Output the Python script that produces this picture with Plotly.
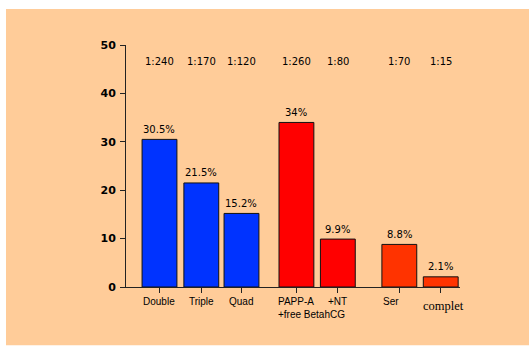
import plotly.graph_objects as go

# ---- data ----
categories = ["Double", "Triple", "Quad", "PAPP-A", "+NT", "Ser", "complet"]
values = [30.5, 21.5, 15.2, 34, 9.9, 8.8, 2.1]
pct_labels = ["30.5%", "21.5%", "15.2%", "34%", "9.9%", "8.8%", "2.1%"]
ratio_labels = ["1:240", "1:170", "1:120", "1:260", "1:80", "1:70", "1:15"]
y_ticks = [0, 10, 20, 30, 40, 50]
sub_label = "+free BetahCG"

# ---- layout / styles ----
xpos = [0, 1.02, 2.0, 3.34, 4.35, 5.85, 6.86]
bar_colors = ["#0033FF", "#0033FF", "#0033FF", "#FF0000", "#FF0000", "#FF3300", "#FF3300"]
label_xshift = [0, 0, 0, 0, 0, -8.5, 3]
label_yshift = [-14.5, -14.5, -14.5, -14.5, -14.5, -14.5, -18.5]
label_fonts = [dict(family="Liberation Sans, Arial", size=10, color="black")] * 6 + [
    dict(family="Liberation Serif, Times New Roman", size=12.5, color="black")
]
PEACH = "#FFCC99"
AXIS = "#222222"

fig = go.Figure()
fig.add_trace(
    go.Bar(
        x=xpos,
        y=values,
        width=0.85,
        marker=dict(color=bar_colors, line=dict(color="#111111", width=1)),
        hoverinfo="skip",
    )
)

annotations = []
for xp, v, t in zip(xpos, values, pct_labels):
    annotations.append(
        dict(x=xp, y=v, xref="x", yref="y", text=t, showarrow=False,
             yanchor="middle", yshift=10,
             font=dict(family="DejaVu Sans", size=10, color="black"))
    )
for xp, t in zip(xpos, ratio_labels):
    annotations.append(
        dict(x=xp, y=0.931, xref="x", yref="paper", text=t, showarrow=False,
             yanchor="middle",
             font=dict(family="DejaVu Sans", size=10, color="black"))
    )
for xp, t, xs, ys, f in zip(xpos, categories, label_xshift, label_yshift, label_fonts):
    annotations.append(
        dict(x=xp, y=0, xref="x", yref="paper", text=t, showarrow=False,
             yanchor="middle", xshift=xs, yshift=ys, font=f)
    )
annotations.append(
    dict(x=xpos[3], y=0, xref="x", yref="paper", text=sub_label, showarrow=False,
         xanchor="left", yanchor="middle", xshift=-20, yshift=-27.5,
         font=dict(family="Liberation Sans, Arial", size=10, color="black"))
)

fig.update_layout(
    width=529,
    height=347,
    margin=dict(l=126, r=69, t=45, b=59.5, pad=0),
    paper_bgcolor="white",
    plot_bgcolor=PEACH,
    showlegend=False,
    annotations=annotations,
    shapes=[
        dict(type="rect", xref="paper", yref="paper", x0=-0.3593, x1=1.25,
             y0=-0.2412, y1=1.1485, fillcolor=PEACH, line=dict(width=0),
             layer="below")
    ],
    xaxis=dict(
        range=[-0.817, 7.33],
        tickvals=xpos,
        ticktext=[""] * len(xpos),
        ticks="outside",
        ticklen=5,
        tickwidth=1,
        tickcolor=AXIS,
        showline=True,
        linecolor=AXIS,
        linewidth=1,
        showgrid=False,
        zeroline=False,
        fixedrange=True,
    ),
    yaxis=dict(
        range=[0, 50],
        tickvals=y_ticks,
        ticks="outside",
        ticklen=5,
        tickwidth=1,
        tickcolor=AXIS,
        showline=True,
        linecolor=AXIS,
        linewidth=1,
        showgrid=False,
        zeroline=False,
        ticklabelstandoff=2,
        tickfont=dict(family="DejaVu Sans", size=11, color="black", weight="bold"),
        fixedrange=True,
    ),
)

fig.write_html("out.html", config={"displayModeBar": False})
